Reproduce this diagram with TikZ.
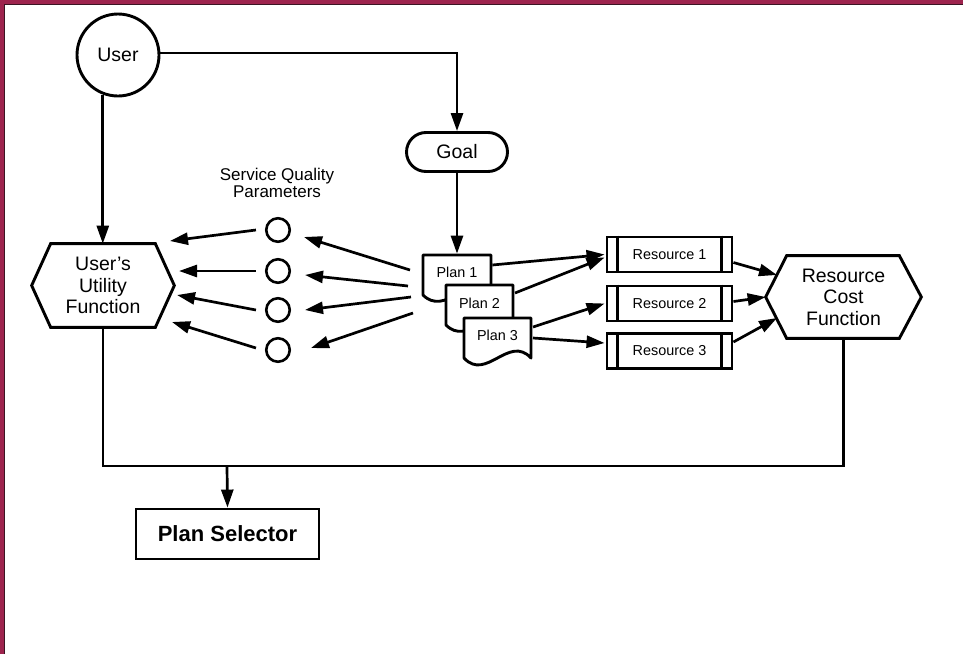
\documentclass[tikz,border=0pt]{standalone}
\usepackage{fontspec}
\setmainfont{Liberation Sans}
\usetikzlibrary{arrows.meta,shapes.misc,calc}
\definecolor{framemaroon}{RGB}{158,36,78}
\definecolor{framedark}{RGB}{60,20,35}
\begin{document}
\begin{tikzpicture}[x=1pt,y=-1pt,
  line width=2.7pt,
  arr/.style={-{Triangle[length=18pt,width=12pt]}},
  biglbl/.style={font=\fontsize{19.5}{21.5}\selectfont, align=center, inner sep=0pt},
  smalllbl/.style={font=\fontsize{14.4}{16}\selectfont, inner sep=0pt},
  shapeline/.style={line width=2.9pt, line join=miter},
  resbox/.style={draw, shapeline, smalllbl, minimum width=125pt, minimum height=35pt},
  qcircle/.style={draw, circle, line width=2.6pt, minimum size=23.5pt, inner sep=0pt},
  docpath/.style={draw, fill=white, shapeline, line join=round}
]
% frame and bounding box
\useasboundingbox (0,0) rectangle (963,654);
\fill[white] (0,0) rectangle (963,654);
\fill[framemaroon] (0,0) rectangle (963,4);
\fill[framemaroon] (0,0) rectangle (4,654);
\draw[framedark, line width=1pt] (4.5,654) -- (4.5,4.5) -- (963,4.5);

% User and Goal
\node[circle, draw, shapeline, minimum size=82pt, biglbl] (User) at (118,55) {User};
\node[rounded rectangle, draw, shapeline, minimum width=101pt, minimum height=39pt, biglbl] (Goal) at (457,152) {Goal};

% User's Utility Function hexagon
\node[biglbl, minimum width=140pt, minimum height=81pt] (UUF) at (103,285.5) {User’s\\Utility\\Function};
\draw[shapeline] (UUF.west) -- ([xshift=19pt]UUF.north west) -- ([xshift=-19pt]UUF.north east) -- (UUF.east) -- ([xshift=-19pt]UUF.south east) -- ([xshift=19pt]UUF.south west) -- cycle;

% Resource Cost Function hexagon
\node[biglbl, minimum width=153pt, minimum height=80pt] (RCF) at (843.5,297) {Resource\\Cost\\Function};
\draw[shapeline] (RCF.west) -- ([xshift=21pt]RCF.north west) -- ([xshift=-22pt]RCF.north east) -- (RCF.east) -- ([xshift=-22pt]RCF.south east) -- ([xshift=21pt]RCF.south west) -- cycle;

% Service quality parameters
\node[font=\fontsize{17}{17.5}\selectfont, align=center, inner sep=0pt] (SQP) at (277,183) {Service Quality\\Parameters};
\node[qcircle] (q1) at (278,230) {};
\node[qcircle] (q2) at (278,271) {};
\node[qcircle] (q3) at (278,310) {};
\node[qcircle] (q4) at (278,350) {};

% Plan documents
\draw[docpath] (423,255) -- (491,255) -- (491,295) .. controls (469,273) and (445,317) .. (423,295) -- cycle;
\node[smalllbl, minimum width=68pt, minimum height=40pt] (Plan1) at (457,275) {};
\node[smalllbl] (Plan1t) at (457,272) {Plan 1};
\draw[docpath] (446,285) -- (513,285) -- (513,325) .. controls (491,303) and (468,347) .. (446,325) -- cycle;
\node[smalllbl, minimum width=67pt, minimum height=40pt] (Plan2) at (479.5,305) {};
\node[smalllbl] (Plan2t) at (479.5,303) {Plan 2};
\draw[docpath] (464,318) -- (531,318) -- (531,358) .. controls (509,334) and (486,382) .. (464,358) -- cycle;
\node[smalllbl, minimum width=67pt, minimum height=40pt] (Plan3) at (497.5,338) {};
\node[smalllbl] (Plan3t) at (497.5,335) {Plan 3};

% Resources
\node[resbox] (R1) at (669.5,254.5) {Resource 1};
\node[resbox] (R2) at (669.5,303.5) {Resource 2};
\node[resbox] (R3) at (669.5,351) {Resource 3};
\foreach \r in {R1,R2,R3}{
  \draw[shapeline] ([xshift=12pt]\r.north west) -- ([xshift=12pt]\r.south west);
  \draw[shapeline] ([xshift=-12pt]\r.north east) -- ([xshift=-12pt]\r.south east);
}

% Plan Selector
\node[draw, shapeline, minimum width=183pt, minimum height=50pt, inner sep=0pt,
      font=\bfseries\fontsize{22}{24}\selectfont] (PS) at (227.5,534) {Plan Selector};

% connectors from User
\draw[arr] (User.east |- 0,53) -| (Goal.north);
\draw[arr] (User.-111.5) -- (User.-111.5 |- UUF.north);
\draw[arr] (Goal.south) -- (Plan1.north);

% circles to utility function
\coordinate (u1) at (170,241);
\coordinate (u2) at (179,271);
\coordinate (u3) at (177,295);
\coordinate (u4) at (172,322);
\draw[arr] ([xshift=-9pt]q1.west) -- (u1);
\draw[arr] ([xshift=-9pt]q2.west) -- (u2);
\draw[arr] ([xshift=-9pt]q3.west) -- (u3);
\draw[arr] ([xshift=-9pt,yshift=2pt]q4.west) -- (u4);

% plan 1 to circles
\coordinate (s1) at (410,270);
\coordinate (s2) at (408,286);
\coordinate (s3) at (411,297);
\coordinate (s4) at (413,313);
\draw[arr] (s1) -- (304,237);
\draw[arr] (s2) -- (305,275);
\draw[arr] (s3) -- (305,310);
\draw[arr] (s4) -- (311,348);

% plans to resources
\draw[arr] ([yshift=10pt]Plan1.east) -- ([xshift=-1pt,yshift=0pt]R1.west);
\draw[arr] (515,293) -- ([xshift=-1pt,yshift=-3pt]R1.west);
\draw[arr] (533,327) -- ([xshift=-1pt]R2.west);
\draw[arr] (533,338) -- ([xshift=-1pt,yshift=8pt]R3.west);

% resources to cost function
\draw[arr] ([yshift=-8pt]R1.east) -- (777,275);
\draw[arr] ([yshift=2pt]R2.east) -- (RCF.west);
\draw[arr] ([yshift=9pt]R3.east) -- (777,318);

% bus to plan selector
\coordinate (bus) at (227,466);
\draw[line join=miter] (UUF.south) |- (RCF.south |- bus) -- (RCF.south);
\draw[arr] (bus) -- (PS.north);
\end{tikzpicture}
\end{document}
